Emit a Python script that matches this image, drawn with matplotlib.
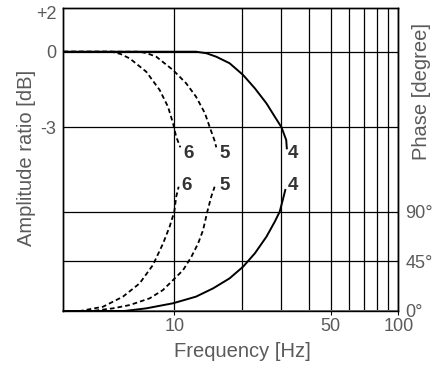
import matplotlib
matplotlib.use("Agg")
import matplotlib.pyplot as plt
import numpy as np

plt.rcParams['font.family'] = ['Liberation Sans', 'DejaVu Sans']

# ---- data ----
amp4_f = [3.2, 12.5, 13.9, 15.4, 17.66, 20.3, 22.9, 25.8, 28.1, 30.1, 31.6, 31.8]
amp4_db = [0, 0, -0.06, -0.2, -0.46, -0.93, -1.46, -2.06, -2.59, -3.01, -3.52, -3.85]
amp5_f = [3.2, 7.0, 7.6, 8.31, 9.87, 11.3, 12.5, 13.7, 14.4, 15.1, 15.4]
amp5_db = [0, 0, -0.07, -0.2, -0.73, -1.26, -1.79, -2.45, -3.01, -3.52, -3.81]
amp6_f = [3.2, 5.24, 5.75, 6.33, 7.5, 8.61, 9.37, 9.87, 10.2, 10.64]
amp6_db = [0, 0, -0.09, -0.27, -0.8, -1.53, -2.19, -2.85, -3.39, -3.81]

ph4_f = [3.2, 6.0, 7.5, 9.87, 12.5, 14.9, 17.66, 20.3, 22.9, 25.8, 28.1, 29.55, 30.5, 31.3]
ph4_deg = [0, 0, 2.4, 7, 13, 20.5, 29.6, 40.2, 52.3, 67.4, 81, 90, 100.6, 109.7]
ph5_f = [3.2, 4.3, 5.32, 6.33, 7.77, 8.9, 9.87, 10.94, 11.91, 12.76, 13.43, 14.04, 14.62, 15.14]
ph5_deg = [0, 0, 2.4, 5.4, 11.5, 19, 28, 37, 49, 61, 73, 90, 103.6, 112.7]
ph6_f = [3.2, 3.8, 4.81, 5.9, 7.0, 8.03, 8.9, 9.53, 10.0, 10.2, 10.46]
ph6_deg = [0, 0, 3.9, 13, 25, 41.7, 61, 76.4, 90, 103.6, 112.7]

x_ticks = [10, 50, 100]
x_grid = [10, 20, 30, 40, 50, 60, 70, 80, 90, 100]
amp_ticks = [1.55, 0, -3]
amp_ticklabels = ['+2', '0', '-3']
phase_ticks = [0, 45, 90]
phase_ticklabels = ['0°', '45°', '90°']
labels = ['4', '5', '6']
label_f_top = [33.96, 16.7, 11.55]
label_f_bot = [33.96, 16.7, 11.3]

# ---- figure ----
fig = plt.figure(figsize=(4.47, 3.69), dpi=100)
ax = fig.add_axes([0.1416, 0.1572, 0.891 - 0.1416, 0.9775 - 0.1572])
ax.set_xscale('log')
ax.set_xlim(3.195, 100)
ax.set_ylim(-10.33, 1.729)
ax2 = ax.twinx()
ax2.set_ylim(0, 274.4)

tc = '#5a5a5a'
for xv in x_grid:
    ax.axvline(xv, color='black', lw=0.9, zorder=1)
for yv in [0, -3]:
    ax.axhline(yv, color='black', lw=0.9, zorder=1)
for yv in [45, 90]:
    ax2.axhline(yv, color='black', lw=0.9, zorder=1)

dash = (0, (2.6, 1.7))
ax.plot(amp4_f, amp4_db, color='black', lw=1.4, zorder=3)
ax.plot(amp5_f, amp5_db, color='black', lw=1.3, ls=dash, zorder=3)
ax.plot(amp6_f, amp6_db, color='black', lw=1.3, ls=dash, zorder=3)
ax2.plot(ph4_f, ph4_deg, color='black', lw=1.4, zorder=3)
ax2.plot(ph5_f, ph5_deg, color='black', lw=1.3, ls=dash, zorder=3)
ax2.plot(ph6_f, ph6_deg, color='black', lw=1.3, ls=dash, zorder=3)

for lab, fx in zip(labels, label_f_top):
    ax.text(fx, -4.05, lab, ha='center', va='center', fontsize=13.5,
            fontweight='bold', color='#333333', zorder=4)
for lab, fx in zip(labels, label_f_bot):
    ax2.text(fx, 114.2, lab, ha='center', va='center', fontsize=13.5,
             fontweight='bold', color='#333333', zorder=4)

ax.set_xticks(x_ticks)
ax.set_xticklabels([str(v) for v in x_ticks])
ax.xaxis.set_minor_locator(matplotlib.ticker.NullLocator())
ax.set_yticks(amp_ticks)
ax.set_yticklabels(amp_ticklabels)
ax2.set_yticks(phase_ticks)
ax2.set_yticklabels(phase_ticklabels)

ax.tick_params(axis='both', length=3, width=0.8, color='black',
               labelsize=13, labelcolor=tc, pad=2)
ax2.tick_params(axis='y', length=3, width=0.8, color='black',
                labelsize=13, labelcolor=tc, pad=2)
ax.tick_params(axis='y', length=0, pad=5)
ax2.tick_params(axis='y', length=0, pad=5)

for a in (ax, ax2):
    for s in a.spines.values():
        s.set_linewidth(1.0)
        s.set_color('black')
ax.spines['bottom'].set_color('#777777')
ax.spines['bottom'].set_linewidth(1.4)

fig.text(26.7 / 447, 1 - 158 / 369, 'Amplitude ratio [dB]', rotation=90,
         ha='center', va='center', fontsize=14.5, color=tc)
fig.text(421.7 / 447, 1 - 91.7 / 369, 'Phase [degree]', rotation=90,
         ha='center', va='center', fontsize=14.5, color=tc)
fig.text(242.5 / 447, 1 - 351.7 / 369, 'Frequency [Hz]',
         ha='center', va='center', fontsize=14.5, color=tc)

fig.savefig('out.png', dpi=100)
